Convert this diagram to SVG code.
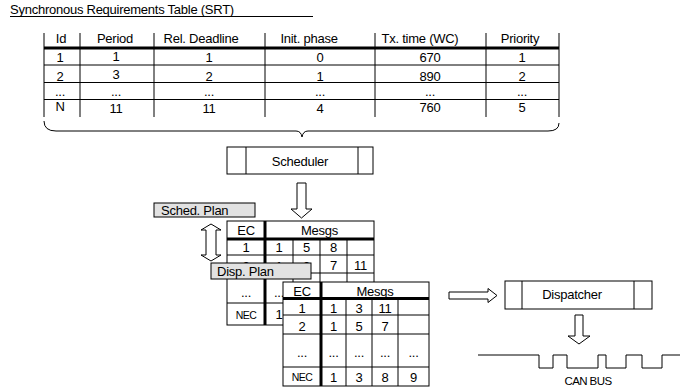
<svg xmlns="http://www.w3.org/2000/svg" width="680" height="388" viewBox="0 0 680 388">
<style>
text{font-family:"Liberation Sans",Arial,sans-serif;font-size:13px;fill:#000;letter-spacing:-0.25px}
.m{text-anchor:middle}
.s{font-size:10.5px;letter-spacing:-0.6px}
.ln{stroke:#000;stroke-width:1;fill:none}
.tk{stroke:#000;stroke-width:3;fill:none}
.box{fill:#fff;stroke:#000;stroke-width:1}
.lbl{fill:#e2e2e2;stroke:#000;stroke-width:1}
.arr{fill:#fff;stroke:#000;stroke-width:1}
</style>

<g id="title">
<text x="10" y="14">Synchronous Requirements Table (SRT)</text>
<line class="ln" x1="10" y1="16.5" x2="313" y2="16.5"/>
</g>

<g id="srt">
<g class="ln">
<line x1="44" y1="33" x2="44" y2="117"/>
<line x1="80" y1="33" x2="80" y2="117"/>
<line x1="154" y1="33" x2="154" y2="117"/>
<line x1="265" y1="33" x2="265" y2="117"/>
<line x1="375" y1="33" x2="375" y2="117"/>
<line x1="486" y1="33" x2="486" y2="117"/>
<line x1="559" y1="33" x2="559" y2="117"/>
<line x1="44" y1="65" x2="559" y2="65"/>
<line x1="44" y1="82.5" x2="559" y2="82.5"/>
<line x1="44" y1="99.5" x2="559" y2="99.5"/>
</g>
<line class="tk" x1="44" y1="48" x2="559" y2="48"/>
<text class="m" x="61" y="43">Id</text>
<text class="m" x="115" y="43">Period</text>
<text class="m" x="201" y="43">Rel. Deadline</text>
<text class="m" x="309" y="43">Init. phase</text>
<text class="m" x="420" y="43">Tx. time (WC)</text>
<text class="m" x="520" y="43">Priority</text>
<g>
<text class="m" x="60" y="62">1</text><text class="m" x="116" y="61">1</text><text class="m" x="209" y="62">1</text><text class="m" x="320" y="62">0</text><text class="m" x="430" y="62">670</text><text class="m" x="522" y="62">1</text>
<text class="m" x="60" y="81">2</text><text class="m" x="116" y="79">3</text><text class="m" x="209" y="81">2</text><text class="m" x="320" y="81">1</text><text class="m" x="430" y="81">890</text><text class="m" x="522" y="81">2</text>
<text class="m" x="60" y="96">...</text><text class="m" x="116" y="96">...</text><text class="m" x="209" y="96">...</text><text class="m" x="320" y="96">...</text><text class="m" x="430" y="96">...</text><text class="m" x="522" y="96">...</text>
<text class="m" x="60" y="111">N</text><text class="m" x="116" y="113">11</text><text class="m" x="209" y="113">11</text><text class="m" x="320" y="113">4</text><text class="m" x="430" y="112">760</text><text class="m" x="522" y="112">5</text>
</g>
</g>

<g id="connectors">
<path class="ln" stroke-width="1.3" d="M44,121 Q44,131 56,131 L296,131 Q301,131 302,137 Q303,131 308,131 L548,131 Q559,131 559,123"/>
<path class="arr" d="M297,183 L306,183 L306,209 L312,209 L301.5,218 L291,209 L297,209 Z"/>
<path class="arr" d="M211,224 L221,230 L216,230 L216,255 L221,255 L211,261 L201,255 L206,255 L206,230 L201,230 Z"/>
<path class="arr" d="M449,292 L488,292 L488,288.5 L497,295.5 L488,302.5 L488,299 L449,299 Z"/>
<path class="arr" d="M575,315 L583,315 L583,336 L590,336 L579,344 L568,336 L575,336 Z"/>
</g>

<g id="scheduler">
<rect class="box" x="227" y="147" width="146" height="27"/>
<line class="ln" x1="246" y1="147" x2="246" y2="174"/>
<line class="ln" x1="358" y1="147" x2="358" y2="174"/>
<text class="m" x="300" y="166">Scheduler</text>
</g>

<g id="sched-plan">
<rect class="box" x="227" y="221" width="147" height="104"/>
<g class="ln">
<line x1="293" y1="239" x2="293" y2="325"/>
<line x1="320" y1="239" x2="320" y2="325"/>
<line x1="347" y1="239" x2="347" y2="325"/>
<line x1="227" y1="255" x2="374" y2="255"/>
<line x1="227" y1="273" x2="374" y2="273"/>
<line x1="227" y1="303" x2="374" y2="303"/>
</g>
<line class="tk" stroke-width="2.5" x1="265" y1="221" x2="265" y2="325"/>
<line class="tk" stroke-width="2.5" x1="227" y1="239" x2="374" y2="239"/>
<text class="m" x="246" y="235">EC</text>
<text class="m" x="319.5" y="235">Mesgs</text>
<text class="m" x="246" y="252">1</text><text class="m" x="279" y="252">1</text><text class="m" x="306.5" y="252">5</text><text class="m" x="333.5" y="252">8</text>
<text class="m" x="246" y="271">2</text><text class="m" x="279" y="271">1</text><text class="m" x="306.5" y="271">3</text><text class="m" x="333.5" y="270">7</text><text class="m" x="360.5" y="270">11</text>
<text class="m" x="246" y="297">...</text><text class="m" x="279" y="297">...</text>
<text class="m s" x="246" y="319">NEC</text><text class="m" x="279" y="319">1</text>
<rect class="lbl" x="154" y="203" width="101" height="14"/>
<text x="161" y="215">Sched. Plan</text>
</g>

<g id="disp-plan">
<rect class="lbl" x="211" y="263" width="100" height="16"/>
<text x="217" y="276">Disp. Plan</text>
<rect class="box" x="283" y="282" width="146" height="104"/>
<g class="ln">
<line x1="346" y1="298.5" x2="346" y2="386"/>
<line x1="372" y1="298.5" x2="372" y2="386"/>
<line x1="398" y1="298.5" x2="398" y2="386"/>
<line x1="283" y1="315" x2="429" y2="315"/>
<line x1="283" y1="334" x2="429" y2="334"/>
<line x1="283" y1="367" x2="429" y2="367"/>
</g>
<line class="tk" stroke-width="2.5" x1="321" y1="282" x2="321" y2="386"/>
<line class="tk" stroke-width="2.5" x1="283" y1="298.5" x2="429" y2="298.5"/>
<text class="m" x="302" y="296">EC</text>
<text class="m" x="375" y="296">Mesgs</text>
<text class="m" x="302" y="313">1</text><text class="m" x="333.5" y="313">1</text><text class="m" x="359" y="313">3</text><text class="m" x="385" y="313">11</text>
<text class="m" x="302" y="331">2</text><text class="m" x="333.5" y="331">1</text><text class="m" x="359" y="331">5</text><text class="m" x="385" y="331">7</text>
<text class="m" x="302" y="357">...</text><text class="m" x="333.5" y="357">...</text><text class="m" x="359" y="357">...</text><text class="m" x="385" y="357">...</text><text class="m" x="413.5" y="357">...</text>
<text class="m s" x="302" y="381">NEC</text><text class="m" x="333.5" y="382">1</text><text class="m" x="359" y="382">3</text><text class="m" x="385" y="382">8</text><text class="m" x="413.5" y="382">9</text>
</g>

<g id="dispatcher">
<rect class="box" x="505" y="281" width="147" height="28"/>
<line class="ln" x1="522" y1="281" x2="522" y2="309"/>
<line class="ln" x1="634" y1="281" x2="634" y2="309"/>
<text class="m" x="572" y="299">Dispatcher</text>
</g>

<g id="can-bus">
<polyline class="ln" points="478,355 539,355 539,368 553,368 553,355 567,355 567,368 598,368 598,355 606,355 606,368 626,368 626,355 642,355 642,368 662,368 662,355 680,355"/>
<text class="m s" style="font-size:11.5px" x="588" y="385">CAN BUS</text>
</g>
</svg>
